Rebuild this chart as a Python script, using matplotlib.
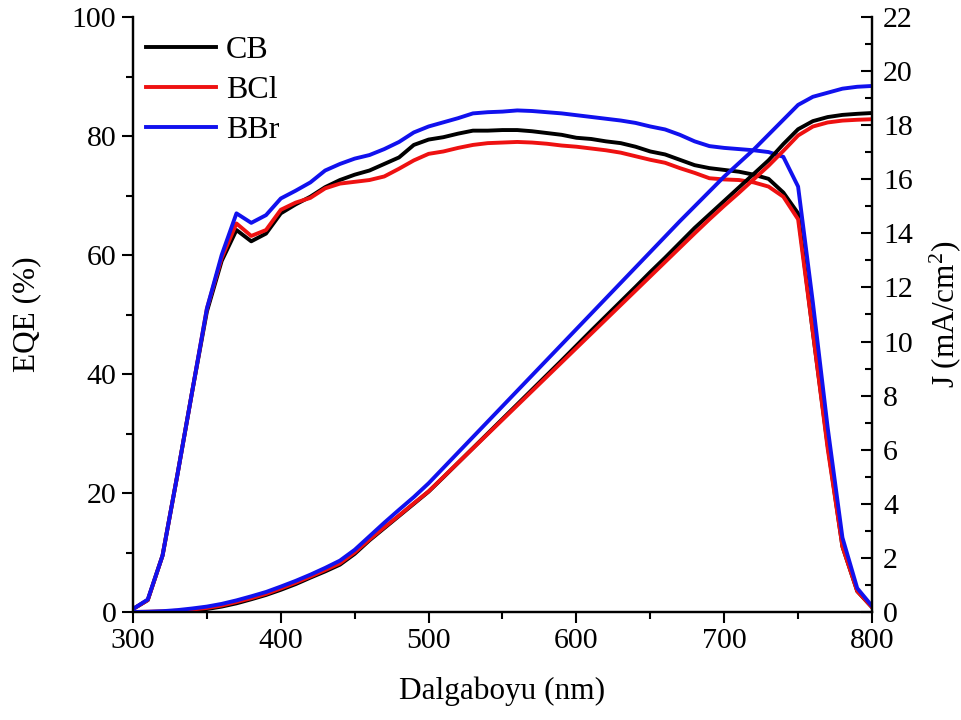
import matplotlib
matplotlib.use("Agg")
import matplotlib.pyplot as plt
from matplotlib.ticker import MultipleLocator

plt.rcParams['font.family'] = ['Liberation Serif', 'DejaVu Serif']
plt.rcParams['mathtext.fontset'] = 'custom'
plt.rcParams['mathtext.rm'] = 'Liberation Serif'
plt.rcParams['mathtext.it'] = 'Liberation Serif:italic'

wavelength = list(range(300, 801, 10))

eqe_cb = [0.5, 2.0, 9.5, 23.0, 37.0, 50.5, 59.0, 64.2, 62.3, 63.6,
          67.0, 68.5, 69.8, 71.4, 72.6, 73.5, 74.2, 75.3, 76.4, 78.5,
          79.4, 79.8, 80.4, 80.9, 80.9, 81.0, 81.0, 80.8, 80.5, 80.2,
          79.7, 79.5, 79.1, 78.8, 78.2, 77.4, 76.9, 76.0, 75.1, 74.6,
          74.3, 74.0, 73.5, 72.8, 70.5, 67.0, 47.0, 28.0, 11.0, 3.5, 0.8]
eqe_bcl = [0.5, 2.0, 9.5, 23.0, 37.0, 51.0, 59.5, 65.3, 63.2, 64.2,
           67.6, 68.8, 69.6, 71.2, 72.0, 72.3, 72.6, 73.2, 74.5, 75.9,
           77.0, 77.4, 78.0, 78.5, 78.8, 78.9, 79.0, 78.9, 78.7, 78.4,
           78.2, 77.9, 77.6, 77.2, 76.6, 76.0, 75.5, 74.6, 73.8, 72.9,
           72.7, 72.6, 72.2, 71.5, 69.8, 66.0, 47.0, 27.5, 11.0, 3.5, 0.8]
eqe_bbr = [0.5, 2.1, 9.5, 23.0, 37.0, 51.0, 60.0, 67.0, 65.4, 66.7,
           69.5, 70.8, 72.2, 74.2, 75.3, 76.2, 76.8, 77.8, 79.0, 80.6,
           81.6, 82.3, 83.0, 83.8, 84.0, 84.1, 84.3, 84.2, 84.0, 83.8,
           83.5, 83.2, 82.9, 82.6, 82.2, 81.6, 81.1, 80.2, 79.1, 78.3,
           78.0, 77.8, 77.6, 77.3, 76.5, 71.5, 52.0, 31.0, 12.5, 4.0, 1.0]

j_cb = [0.0, 0.0, 0.01, 0.03, 0.06, 0.11, 0.2, 0.32, 0.47, 0.63,
        0.82, 1.03, 1.27, 1.5, 1.75, 2.15, 2.65, 3.1, 3.55, 4.0,
        4.45, 4.98, 5.52, 6.06, 6.6, 7.14, 7.68, 8.22, 8.76, 9.3,
        9.85, 10.4, 10.94, 11.48, 12.02, 12.57, 13.1, 13.65, 14.2, 14.7,
        15.2, 15.7, 16.2, 16.7, 17.3, 17.85, 18.15, 18.3, 18.38, 18.42, 18.45]
j_bcl = [0.0, 0.01, 0.02, 0.05, 0.09, 0.15, 0.24, 0.37, 0.51, 0.67,
         0.87, 1.08, 1.31, 1.55, 1.8, 2.2, 2.68, 3.13, 3.57, 4.02,
         4.46, 4.99, 5.52, 6.05, 6.58, 7.11, 7.64, 8.17, 8.7, 9.23,
         9.76, 10.29, 10.82, 11.35, 11.88, 12.41, 12.94, 13.47, 14.0, 14.52,
         15.02, 15.5, 16.0, 16.5, 17.05, 17.62, 17.95, 18.1, 18.17, 18.2, 18.22]
j_bbr = [0.0, 0.01, 0.03, 0.07, 0.13, 0.2, 0.3, 0.43, 0.58, 0.74,
         0.94, 1.15, 1.38, 1.63, 1.9, 2.3, 2.8, 3.3, 3.78, 4.25,
         4.76, 5.33, 5.9, 6.47, 7.04, 7.61, 8.18, 8.75, 9.32, 9.89,
         10.46, 11.03, 11.6, 12.17, 12.74, 13.31, 13.88, 14.45, 15.0, 15.55,
         16.1, 16.6, 17.1, 17.65, 18.2, 18.75, 19.05, 19.2, 19.35, 19.42, 19.45]

labels = ['CB', 'BCl', 'BBr']
colors = ['#000000', '#ee1111', '#1111ee']

fig = plt.figure(figsize=(9.62, 7.2), dpi=100)
ax = fig.add_axes([133/962, 1-612/720, (872-133)/962, (612-17)/720])
ax2 = ax.twinx()

lw = 2.8
for y, c, l in zip([eqe_cb, eqe_bcl, eqe_bbr], colors, labels):
    ax.plot(wavelength, y, color=c, lw=lw, label=l)
for y, c in zip([j_cb, j_bcl, j_bbr], colors):
    ax2.plot(wavelength, y, color=c, lw=lw)

ax.set_xlim(300, 800)
ax.set_ylim(0, 100)
ax2.set_ylim(0, 22)

fs = 21.5
ax.xaxis.set_major_locator(MultipleLocator(100))
ax.xaxis.set_minor_locator(MultipleLocator(50))
ax.yaxis.set_major_locator(MultipleLocator(20))
ax.yaxis.set_minor_locator(MultipleLocator(10))
ax2.yaxis.set_major_locator(MultipleLocator(2))
ax2.yaxis.set_minor_locator(MultipleLocator(1))

ax.tick_params(axis='both', which='major', direction='out', length=8, width=1.5,
               labelsize=fs, top=False, right=False)
ax.tick_params(axis='y', which='major', pad=4)
ax.tick_params(axis='both', which='minor', direction='out', length=5, width=1.5,
               top=False, right=False)
ax2.tick_params(axis='y', which='major', direction='in', length=8, width=1.5, labelsize=fs, pad=8)
ax2.tick_params(axis='y', which='minor', direction='in', length=5, width=1.5)

for a in (ax, ax2):
    a.spines['top'].set_visible(False)
    for s in ('left', 'right', 'bottom'):
        a.spines[s].set_linewidth(1.6)

ax.set_xlabel('Dalgaboyu (nm)', fontsize=22.5, labelpad=16)
ax.set_ylabel('EQE (%)', fontsize=22.5, labelpad=22)
ax2.set_ylabel('J (mA/cm$^2$)', fontsize=22.5, labelpad=10)

leg = ax.legend(loc='upper left', frameon=False, fontsize=23, handlelength=2.2,
                handletextpad=0.3, labelspacing=0.33, borderaxespad=0.0,
                bbox_to_anchor=(0.0, 0.99))

fig.savefig('out.png', dpi=100)
